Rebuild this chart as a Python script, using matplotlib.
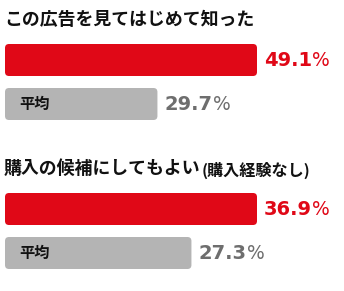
import matplotlib
matplotlib.use("Agg")
from matplotlib import pyplot as plt
from matplotlib.patches import FancyBboxPatch

# data
titles = ["この広告を見てはじめて知った", "購入の候補にしてもよい"]
title_notes = ["", "(購入経験なし)"]
ad_values = [49.1, 36.9]
avg_values = [29.7, 27.3]
avg_label = "平均"

RED = "#E00817"
GRAY = "#B4B4B4"
GRAY_TXT = "#6E6E6E"
JP = ["Noto Sans CJK JP", "DejaVu Sans"]
NUM = ["DejaVu Sans"]

W, H = 344, 291
fig = plt.figure(figsize=(W / 100, H / 100), dpi=100)
fig.patch.set_facecolor("white")

# pixel layout: (title center y, bars top y)
layout = [(20, 44), (169, 193)]
bar_left, bar_right = 5, 257
bar_h_px, step_px = 32, 44

renderer = fig.canvas.get_renderer()

for i in range(2):
    ty, top = layout[i]
    # title
    t = fig.text(4 / W, 1 - ty / H, titles[i], fontsize=12.9, fontweight="bold",
                 family=JP, va="center", ha="left", color="#111111")
    if title_notes[i]:
        bb = t.get_window_extent(renderer)
        fig.text(bb.x1 / W + 0.004, 1 - (ty + 1) / H, title_notes[i], fontsize=11.6,
                 fontweight="bold", family=JP, va="center", ha="left", color="#111111")

    total_px = bar_h_px + step_px
    ax = fig.add_axes([bar_left / W, 1 - (top + total_px) / H,
                       (bar_right - bar_left) / W, total_px / H])
    vmax = max(ad_values[i], avg_values[i])
    ax.set_xlim(0, vmax)
    hh = bar_h_px / step_px
    ax.set_ylim(1 + hh / 2, -hh / 2)
    ax.axis("off")

    vals = [ad_values[i], avg_values[i]]
    bars = ax.barh([0, 1], vals, height=hh, color=[RED, GRAY])
    r_px = 4
    x_per_px = vmax / (bar_right - bar_left)
    y_per_px = 1 / step_px
    for b in bars:
        x, y = b.get_x(), b.get_y()
        w, h = b.get_width(), b.get_height()
        b.set_visible(False)
        p = FancyBboxPatch((x, y), w, h,
                           boxstyle="round,pad=0,rounding_size=%f" % (r_px * x_per_px),
                           mutation_aspect=y_per_px / x_per_px,
                           facecolor=b.get_facecolor(), edgecolor="none")
        ax.add_patch(p)

    ax.text(14 * x_per_px, 1, avg_label, family=JP, fontsize=11, fontweight="bold",
            va="center", ha="left", color="#111111")

    for j, (v, c) in enumerate(zip(vals, [RED, GRAY_TXT])):
        n = ax.annotate("%.1f" % v, (v, j), xytext=(5, -0.5), textcoords="offset points",
                        family=NUM, fontsize=14, fontweight="bold", color=c,
                        va="center", ha="left")
        nb = n.get_window_extent(renderer)
        fig.text(nb.x1 / W + 0.001, (nb.y0 + nb.y1) / 2 / H, "%", family=NUM,
                 fontsize=13.5, color=c, va="center", ha="left")

fig.savefig("out.png", dpi=100, facecolor="white")
